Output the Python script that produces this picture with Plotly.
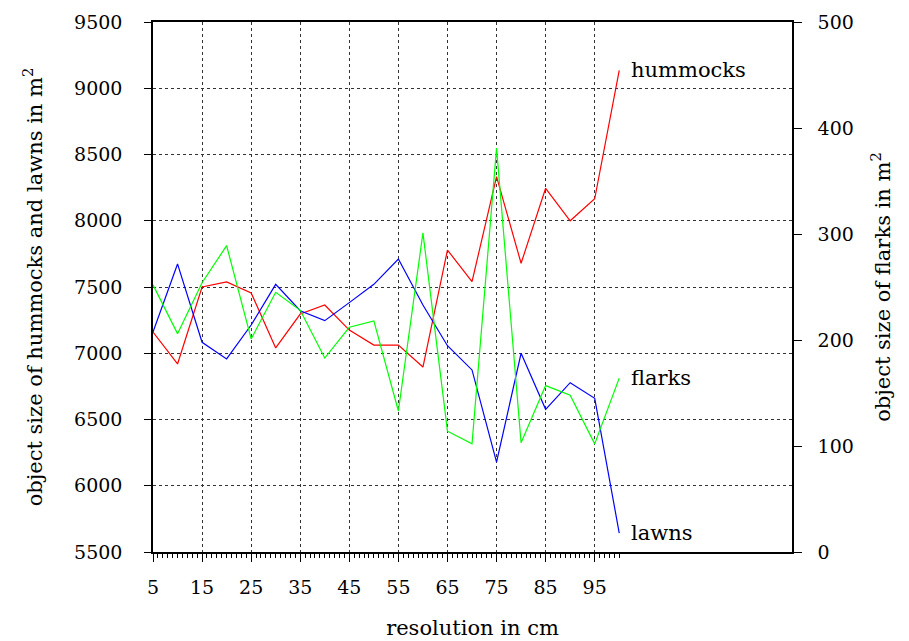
import plotly.graph_objects as go

resolution = [5, 10, 15, 20, 25, 30, 35, 40, 45, 50, 55, 60, 65, 70, 75, 80, 85, 90, 95, 100]
hummocks = [7160, 6919, 7500, 7538, 7455, 7040, 7296, 7364, 7175, 7062, 7062, 6896, 7779, 7540,
            8333, 7679, 8245, 8000, 8166, 9135]
lawns = [7160, 7674, 7083, 6957, 7213, 7520, 7321, 7246, 7382, 7520, 7711, 7364, 7057, 6874,
         6179, 7000, 6577, 6778, 6660, 5643]
flarks = [252, 206, 254, 289, 201, 245, 228, 183, 212, 218, 133, 301, 114, 102,
          381, 103, 157, 148, 102, 164]

x_ticks = [5, 15, 25, 35, 45, 55, 65, 75, 85, 95]
x_minor = list(range(5, 101))
left_ticks = [5500, 6000, 6500, 7000, 7500, 8000, 8500, 9000, 9500]
right_ticks = [0, 100, 200, 300, 400, 500]

FONT = "DejaVu Serif"

fig = go.Figure()
fig.add_trace(go.Scatter(x=resolution, y=hummocks, mode="lines", name="hummocks",
                         line=dict(color="#ff0000", width=1.2)))
fig.add_trace(go.Scatter(x=resolution, y=lawns, mode="lines", name="lawns",
                         line=dict(color="#0000ff", width=1.2)))
fig.add_trace(go.Scatter(x=resolution, y=flarks, mode="lines", name="flarks", yaxis="y2",
                         line=dict(color="#00ff00", width=1.2)))

ann_font = dict(family=FONT, size=21, color="black")
fig.add_annotation(x=102, y=hummocks[-1], text="hummocks", xanchor="left", yanchor="middle",
                   showarrow=False, font=ann_font)
fig.add_annotation(x=102, y=lawns[-1], text="lawns", xanchor="left", yanchor="middle",
                   showarrow=False, font=ann_font)
fig.add_annotation(x=102, y=flarks[-1], yref="y2", text="flarks", xanchor="left", yanchor="middle",
                   showarrow=False, font=ann_font)

title_font = dict(family=FONT, size=21, color="black")

fig.update_layout(
    width=893, height=641,
    margin=dict(l=145, r=109, t=14, b=97),
    paper_bgcolor="white", plot_bgcolor="white",
    showlegend=False,
    font=dict(family=FONT, size=19, color="black"),
    xaxis=dict(
        range=[5, 135.2], tickmode="array", tickvals=x_ticks, ticktext=[str(v) for v in x_ticks],
        ticks="outside", ticklen=8, tickwidth=1.2, tickcolor="black", ticklabelstandoff=9,
        minor=dict(tickmode="array", tickvals=x_minor, ticks="outside", ticklen=4,
                   tickwidth=1, tickcolor="black", showgrid=False),
        showline=True, linecolor="black", linewidth=1.5, mirror=True,
        showgrid=True, gridcolor="#333", griddash="dot", gridwidth=1,
        zeroline=False, automargin="bottom",
        title=dict(text="resolution in cm", font=title_font, standoff=24),
    ),
    yaxis=dict(
        range=[5500, 9500], tickmode="array", tickvals=left_ticks,
        ticks="outside", ticklen=7, tickwidth=1.2, tickcolor="black", ticklabelstandoff=18,
        showline=True, linecolor="black", linewidth=1.5,
        showgrid=True, gridcolor="#333", griddash="dot", gridwidth=1,
        zeroline=False, automargin="left",
        title=dict(text="object size of hummocks and lawns in m<sup>2</sup>", font=title_font,
                   standoff=26),
    ),
    yaxis2=dict(
        range=[0, 500], tickmode="array", tickvals=right_ticks,
        overlaying="y", side="right",
        ticks="outside", ticklen=8, tickwidth=1.2, tickcolor="black", ticklabelstandoff=12,
        showline=True, linecolor="black", linewidth=1.5,
        showgrid=False, zeroline=False, automargin="right",
        title=dict(text="object size of flarks in m<sup>2</sup>", font=title_font, standoff=22),
    ),
)

fig.write_html("out.html")
